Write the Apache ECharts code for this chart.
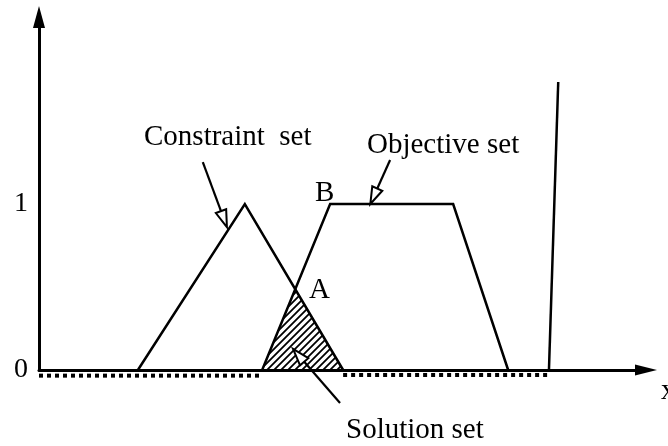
<!DOCTYPE html>
<html>
<head>
<meta charset="utf-8">
<script src="https://cdn.jsdelivr.net/npm/echarts@6/dist/echarts.min.js"></script>
<style>
html, body { margin: 0; padding: 0; background: #fff; }
#chart { width: 668px; height: 446px; }
</style>
</head>
<body>
<div id="chart"></div>
<script>
// membership functions, points are [x, mu]
var constraintSet = [[16.0, 0], [33.3, 1], [49.2, 0]];
var objectiveSet = [[36.1, 0], [47.1, 1], [67.0, 1], [75.9, 0]];
var solutionSet = [[36.1, 0], [41.46, 0.487], [49.2, 0]];
var rightBound = [[82.5, 0], [84.0, 1.735]];
// dotted mu = 0 parts of the solution set
var zeroLeft = [[0, -0.034], [36.1, -0.034]];
var zeroRight = [[49.2, -0.03], [82.5, -0.03]];
// annotation arrows: [fromX, fromY, toX, toY]
var arrows = [
    [26.5, 1.253, 30.4, 0.861],
    [56.8, 1.265, 53.6, 1.0],
    [48.7, -0.199, 41.1, 0.127]
];
var yTicks = [0, 1];

var serif = 'Liberation Serif';

// diagonal hatch for the solution area
function makeHatch() {
    var c = document.createElement('canvas');
    c.width = 7; c.height = 7;
    var ctx = c.getContext('2d');
    ctx.strokeStyle = '#000';
    ctx.lineWidth = 1.8;
    ctx.beginPath();
    ctx.moveTo(0, 7); ctx.lineTo(7, 0);
    ctx.moveTo(-1, 1); ctx.lineTo(1, -1);
    ctx.moveTo(6, 8); ctx.lineTo(8, 6);
    ctx.stroke();
    return c;
}

// line with an open triangle head
function renderArrow(params, api) {
    var p1 = api.coord([api.value(0), api.value(1)]);
    var p2 = api.coord([api.value(2), api.value(3)]);
    var dx = p2[0] - p1[0], dy = p2[1] - p1[1];
    var len = Math.sqrt(dx * dx + dy * dy);
    var ux = dx / len, uy = dy / len;
    var hl = 17, hw = 5.5;
    var bx = p2[0] - ux * hl, by = p2[1] - uy * hl;
    return {
        type: 'group',
        children: [
            { type: 'line', shape: { x1: p1[0], y1: p1[1], x2: bx, y2: by },
              style: { stroke: '#000', lineWidth: 2.2 } },
            { type: 'polygon',
              shape: { points: [[p2[0], p2[1]], [bx - uy * hw, by + ux * hw], [bx + uy * hw, by - ux * hw]] },
              style: { fill: '#fff', stroke: '#000', lineWidth: 2 } }
        ]
    };
}

function shape(data, z) {
    return {
        type: 'line', data: data, symbol: 'none', z: z || 3,
        lineStyle: { color: '#000', width: 2.5, join: 'miter' }
    };
}

function dotted(data) {
    return {
        type: 'line', data: data, symbol: 'none', z: 2, clip: false,
        lineStyle: { color: '#000', width: 4, type: [4, 4], cap: 'butt' }
    };
}

function label(text, x, y) {
    return {
        type: 'text', x: x, y: y,
        style: { text: text, font: '29px "' + serif + '"', fill: '#000', verticalAlign: 'middle' }
    };
}

var myChart = echarts.init(document.getElementById('chart'));

var option = {
    animation: false,
    grid: { left: 39, right: 22, top: 17, bottom: 76 },
    xAxis: {
        type: 'value', min: 0, max: 98.2,
        axisLine: { lineStyle: { color: '#000', width: 3 }, symbol: ['none', 'triangle'], symbolSize: [11, 22] },
        axisTick: { show: false }, axisLabel: { show: false }, splitLine: { show: false }
    },
    yAxis: {
        type: 'value', min: 0, max: 2.127, interval: 1,
        axisLine: { show: true, lineStyle: { color: '#000', width: 3 }, symbol: ['none', 'triangle'], symbolSize: [12, 22] },
        axisTick: { show: false }, splitLine: { show: false },
        axisLabel: {
            margin: 11, color: '#000', fontFamily: serif, fontSize: 28, padding: [8, 0, 0, 0],
            formatter: function (v) { return yTicks.indexOf(v) >= 0 ? String(v) : ''; }
        }
    },
    series: [
        {
            type: 'line', data: solutionSet, symbol: 'none', z: 1,
            lineStyle: { width: 0 },
            areaStyle: { color: { image: makeHatch(), repeat: 'repeat' }, opacity: 1 }
        },
        shape(constraintSet),
        shape(objectiveSet),
        shape(rightBound),
        dotted(zeroLeft),
        dotted(zeroRight),
        {
            type: 'custom', data: arrows, z: 5,
            encode: { x: [0, 2], y: [1, 3] },
            renderItem: renderArrow
        }
    ],
    graphic: [
        label('Constraint  set', 144, 137),
        label('Objective set', 367, 145),
        label('B', 315, 193),
        label('A', 309, 290),
        label('Solution set', 346, 430),
        label('x', 661, 391)
    ]
};

myChart.setOption(option);
</script>
</body>
</html>
